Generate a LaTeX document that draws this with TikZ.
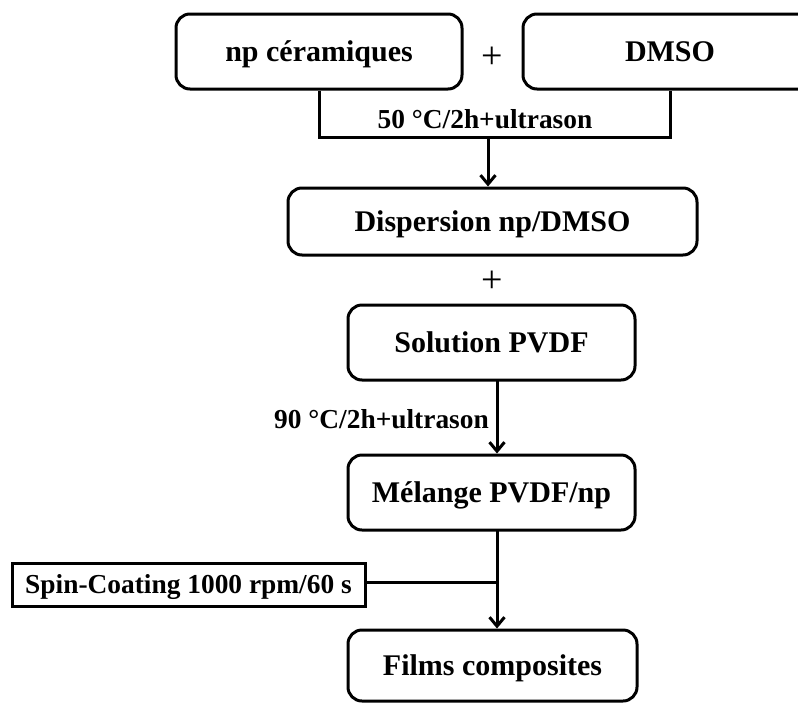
\documentclass[tikz,border=0pt]{standalone}
\usepackage{fontspec}
\setmainfont{Liberation Serif}
\usetikzlibrary{arrows.meta}
\tikzset{
  rbox/.style={draw, line width=3pt, rounded corners=14pt, inner sep=0pt,
    font=\fontsize{30}{36}\selectfont\bfseries, align=center,
    text height=20pt, text depth=0pt},
  sbox/.style={draw, line width=3pt, inner sep=0pt,
    font=\fontsize{27.4}{32}\selectfont\bfseries,
    text height=18pt, text depth=0pt},
  lbl/.style={inner sep=0pt, font=\fontsize{27.4}{32}\selectfont\bfseries},
  plus/.style={inner sep=0pt, font=\fontsize{38}{44}\selectfont},
  conn/.style={line width=3pt},
  arr/.style={line width=3pt, -{Straight Barb[length=9pt,width=15pt]}}
}
\begin{document}
\begin{tikzpicture}[x=1pt,y=-1pt]
\clip (0,0) rectangle (798,702);
\fill[white] (0,0) rectangle (798,702);
\node[rbox, minimum width=286pt, minimum height=75pt] (np) at (319,51.5) {np céramiques};
\node[rbox, minimum width=294pt, minimum height=75pt] (dmso) at (670,51.5) {DMSO};
\node[plus] (p1) at (492,58) {+};
\coordinate (jl) at (319,137);
\coordinate (jr) at (670,137);
\coordinate (jm) at (488,137);
\draw[conn] (np.south) -- (jl) -- (jr) -- (dmso.south);
\node[lbl] (l50) at (485,119) {50 °C/2h+ultrason};
\node[rbox, minimum width=409pt, minimum height=67pt] (disp) at (492.5,221.5) {Dispersion np/DMSO};
\draw[arr] (jm) -- (jm |- disp.north);
\node[plus] (p2) at (492,282) {+};
\node[rbox, minimum width=287pt, minimum height=75pt] (sol) at (491.5,342.5) {Solution PVDF};
\node[rbox, minimum width=287pt, minimum height=75pt] (mel) at (491.5,492.5) {Mélange PVDF/np};
\coordinate (s1) at (497,380);
\draw[arr] (s1) -- (s1 |- mel.north);
\node[lbl, anchor=east] (l90) at (489,419) {90 °C/2h+ultrason};
\node[rbox, minimum width=289pt, minimum height=71pt] (films) at (492.5,665.5) {Films composites};
\node[sbox, minimum width=353pt, minimum height=43pt] (spin) at (188.5,584.5) {Spin-Coating 1000 rpm/60 s};
\coordinate (m1) at (497,530);
\coordinate (jj) at (497,582);
\draw[arr] (m1) -- (m1 |- films.north);
\draw[conn] (spin.east |- jj) -- (jj);
\end{tikzpicture}
\end{document}
